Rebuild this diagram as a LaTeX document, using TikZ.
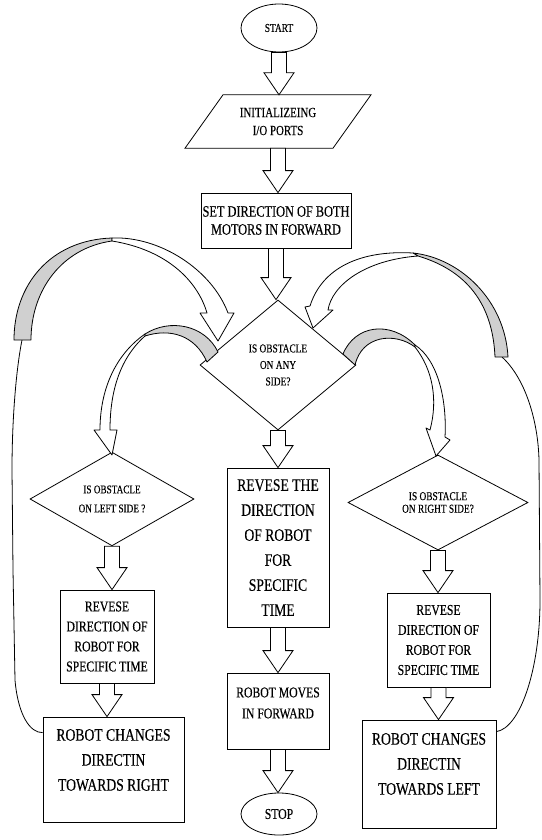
\documentclass[tikz,border=0pt]{standalone}
\usepackage{fontspec}
\setmainfont{Liberation Serif}[FakeStretch=0.78,FakeBold=0.3]
\usetikzlibrary{shapes.geometric,calc}
\definecolor{bandgrey}{HTML}{D0D0D0}
\tikzset{
  every node/.style={inner sep=0pt, align=center},
  lw/.style={line width=0.8pt},
  boxnode/.style={draw, lw, rectangle, fill=white},
  ellnode/.style={draw, lw, ellipse},
  dianode/.style={draw, lw, diamond},
  barrowst/.style={draw, lw, fill=white, line join=miter},
  band/.style={draw, lw, fill=bandgrey, line join=round},
  wband/.style={draw, lw, fill=white, line join=round},
  conn/.style={draw, lw},
}
\newcommand{\barrow}[2]{%
  \draw[barrowst] let \p1=(#1), \p2=(#2) in
    (\x1-7.5pt,\y1) -- (\x1-7.5pt,\y2+22pt) -- (\x1-15pt,\y2+22pt) -- (\x1,\y2)
    -- (\x1+15pt,\y2+22pt) -- (\x1+7.5pt,\y2+22pt) -- (\x1+7.5pt,\y1) -- cycle;}
\begin{document}
\begin{tikzpicture}[x=1pt,y=-1pt]
\useasboundingbox (0,0) rectangle (541,840);

% centre column
\node[ellnode, minimum width=76pt, minimum height=48pt, font=\fontsize{12}{14}\selectfont] (start) at (279,28) {START};
\node[minimum width=110pt, minimum height=53pt, font=\fontsize{14}{18}\selectfont] (io) at (278,121.5) {INITIALIZEING\\I/O PORTS};
\draw[lw] ($(io.north)+(-55,0)$) -- ($(io.north)+(93,0)$) -- ($(io.south)+(55,0)$) -- ($(io.south)+(-93,0)$) -- cycle;
\node[boxnode, minimum width=150pt, minimum height=55pt, font=\fontsize{15.8}{18}\selectfont] (set) at (276,220.5) {SET DIRECTION OF BOTH\\MOTORS IN FORWARD};
\node[dianode, minimum width=156pt, minimum height=130pt, font=\fontsize{12}{16.5}\selectfont] (dm) at (278,365) {IS OBSTACLE\\ON ANY\\SIDE?};
\node[boxnode, minimum width=102pt, minimum height=159pt, font=\fontsize{17.5}{25}\selectfont] (rev) at (278,547.5) {REVESE THE\\DIRECTION\\OF ROBOT\\FOR\\SPECIFIC\\TIME};
\node[boxnode, minimum width=102pt, minimum height=76pt] (mv) at (278,711) {};
\node[font=\fontsize{15}{21}\selectfont] (mvt) at ([yshift=8pt]mv.center) {ROBOT MOVES\\IN FORWARD};
\node[ellnode, minimum width=76pt, minimum height=42pt, font=\fontsize{15}{18}\selectfont] (stop) at (279,814) {STOP};

% left column
\node[dianode, minimum width=164pt, minimum height=88pt, font=\fontsize{11.8}{19}\selectfont] (dl) at (112,499) {IS OBSTACLE\\ON LEFT SIDE ?};
\node[boxnode, minimum width=94pt, minimum height=93pt, font=\fontsize{15}{20}\selectfont] (revl) at (107,636.5) {REVESE\\DIRECTION OF\\ROBOT FOR\\SPECIFIC TIME};
\node[boxnode, minimum width=141pt, minimum height=105pt] (chl) at (113.5,769.5) {};
\node[font=\fontsize{17.5}{25}\selectfont] (chlt) at ([yshift=9.5pt]chl.center) {ROBOT CHANGES\\DIRECTIN\\TOWARDS RIGHT};

% right column
\node[dianode, minimum width=180pt, minimum height=95pt, font=\fontsize{12}{12.5}\selectfont] (dr) at (438,502.5) {IS OBSTACLE\\ON RIGHT SIDE?};
\node[boxnode, minimum width=103pt, minimum height=94pt, font=\fontsize{15}{20}\selectfont] (revr) at (438.5,640) {REVESE\\DIRECTION OF\\ROBOT FOR\\SPECIFIC TIME};
\node[boxnode, minimum width=134pt, minimum height=108pt] (chr) at (429,774) {};
\node[font=\fontsize{17.5}{25}\selectfont] (chrt) at ([yshift=10pt]chr.center) {ROBOT CHANGES\\DIRECTIN\\TOWARDS LEFT};

% block arrows
\barrow{start.south}{io.north}
\barrow{io.south}{set.north}
\barrow{set.south}{dm.north}
\barrow{dm.south}{rev.north}
\barrow{rev.south}{mv.north}
\barrow{mv.south}{stop.north}
\barrow{dl.south}{revl.north}
\barrow{revl.south}{chl.north}
\barrow{dr.south}{revr.north}
\barrow{revr.south}{chr.north}

% loop-back connectors
\coordinate (ltail) at (22,340);
\coordinate (rtail) at (502,357);
\draw[conn] ([yshift=-16pt]chl.north west) .. controls (30,733) and (18,715) .. (15,680) -- (13,570) -- (12,470) .. controls (12,420) and (16,370) .. (ltail);
\draw[conn] ([yshift=-12pt]chr.north east) .. controls (520,728) and (540,670) .. (540,600) -- (539,460) .. controls (538,420) and (525,378) .. (rtail);

% big left curved arrow
\draw[band] (14,340) .. controls (14,285) and (50,240) .. (112,238) -- (112,241) .. controls (62,248) and (31,290) .. (31,340) -- cycle;
\draw[wband] (112,238) .. controls (160,236) and (212,270) .. (228,313) -- (234,313) -- (218,341) -- (200,313) -- (207,313) .. controls (198,282) and (168,250) .. (112,241) -- cycle;

% inner left curved arrow
\draw[band] (218,352) .. controls (205,325) and (170,318) .. (145,334) -- (145,336) .. controls (170,328) and (195,335) .. (207,362) -- cycle;
\draw[wband] (145,334) .. controls (115,355) and (100,390) .. (100,430) -- (94,430) -- (112,455) -- (117,430) -- (110,430) .. controls (110,395) and (118,360) .. (145,336) -- cycle;

% inner right curved arrow
\draw[band] (343,354) .. controls (355,325) and (390,320) .. (415,345) -- (415,347) .. controls (395,332) and (362,335) .. (355,365) -- cycle;
\draw[wband] (415,345) .. controls (438,360) and (447,400) .. (445,437) -- (450,440) -- (436,456) -- (426,428) -- (430,430) .. controls (438,400) and (433,370) .. (415,347) -- cycle;

% big right curved arrow
\draw[band] (413,253) .. controls (460,258) and (505,300) .. (508,357) -- (495,357) .. controls (493,310) and (472,272) .. (418,256) -- cycle;
\draw[wband] (413,253) .. controls (360,250) and (322,268) .. (310,306) -- (305,307) -- (313,328) -- (333,310) -- (328,310) .. controls (332,285) and (365,260) .. (418,256) -- cycle;

\end{tikzpicture}
\end{document}
